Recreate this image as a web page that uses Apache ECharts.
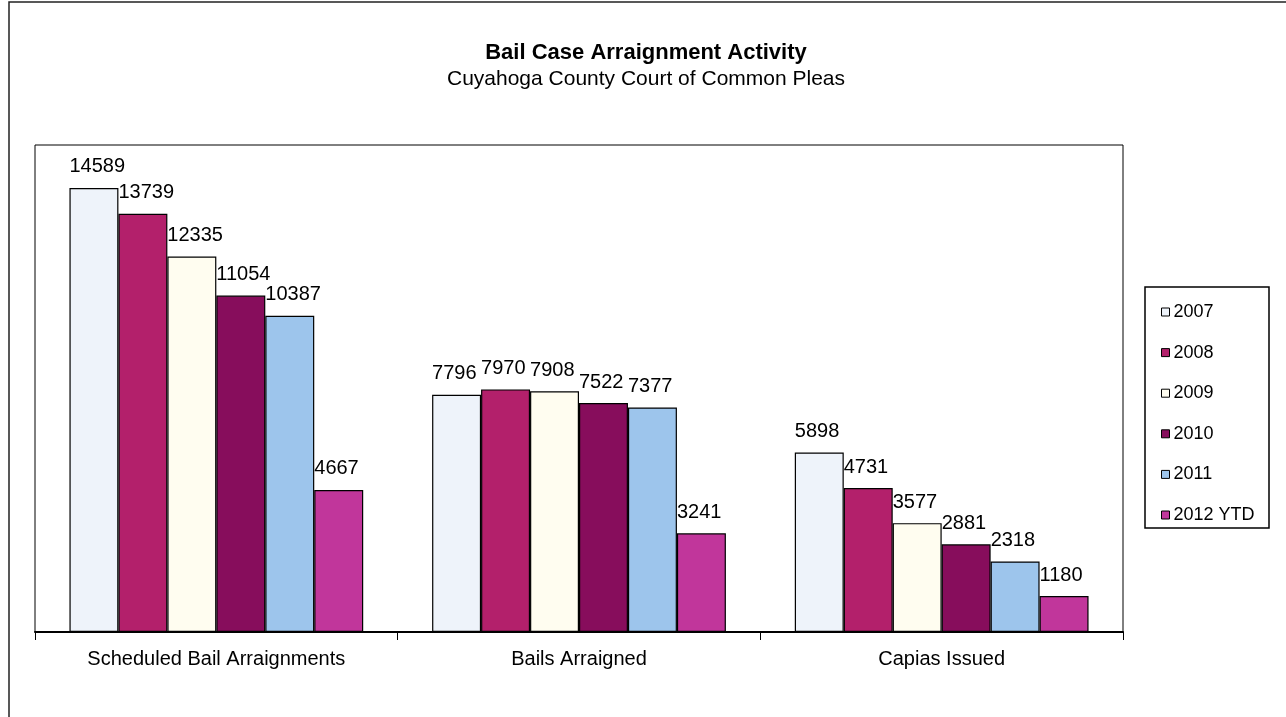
<!DOCTYPE html>
<html>
<head>
<meta charset="utf-8">
<script src="https://cdn.jsdelivr.net/npm/echarts@6/dist/echarts.min.js"></script>
<style>html,body{margin:0;padding:0;background:#fff}#c{width:1286px;height:717px}</style>
</head>
<body>
<div id="c"></div>
<script>
const categories = ['Scheduled Bail Arraignments', 'Bails Arraigned', 'Capias Issued'];
const seriesNames = ['2007', '2008', '2009', '2010', '2011', '2012 YTD'];
const v2007 = [14589, 7796, 5898];
const v2008 = [13739, 7970, 4731];
const v2009 = [12335, 7908, 3577];
const v2010 = [11054, 7522, 2881];
const v2011 = [10387, 7377, 2318];
const v2012 = [4667, 3241, 1180];
const values = [v2007, v2008, v2009, v2010, v2011, v2012];
const colors = ['#eef3fa', '#b3206b', '#fffdf0', '#870d5c', '#9dc5ec', '#c1369b'];

const font = 'Liberation Sans, Arial, sans-serif';
const chart = echarts.init(document.getElementById('c'));
chart.setOption({
  animation: false,
  backgroundColor: '#fff',
  title: {
    text: 'Bail Case Arraignment Activity',
    subtext: 'Cuyahoga County Court of Common Pleas',
    left: 641, textAlign: 'center', top: 37, itemGap: 5,
    textStyle: { fontFamily: font, fontSize: 22, fontWeight: 'bold', color: '#000' },
    subtextStyle: { fontFamily: font, fontSize: 21, color: '#000' }
  },
  legend: {
    orient: 'vertical', left: 1156, top: 298, itemGap: 22.6,
    itemWidth: 8, itemHeight: 8, icon: 'rect',
    itemStyle: { borderColor: '#000', borderWidth: 1 },
    textStyle: { fontFamily: font, fontSize: 18, color: '#000', padding: [0, 0, 0, -1] },
    data: seriesNames
  },
  graphic: [
    { type: 'rect', shape: { x: 9, y: 2, width: 1290, height: 730 }, style: { fill: 'none', stroke: '#222', lineWidth: 1.5 } },
    { type: 'rect', shape: { x: 1145, y: 287, width: 124, height: 241 }, style: { fill: 'none', stroke: '#000', lineWidth: 1.5 } }
  ],
  grid: { left: 35, right: 163, top: 145, bottom: 85, show: true, borderColor: '#000', borderWidth: 1 },
  xAxis: {
    type: 'category', data: categories,
    axisLine: { show: true, lineStyle: { color: '#000', width: 2 } },
    axisTick: { show: true, interval: 0, length: 8, lineStyle: { color: '#000', width: 1 } },
    axisLabel: { fontFamily: font, fontSize: 20, color: '#000', margin: 17 }
  },
  yAxis: { type: 'value', min: 0, max: 16000, show: false, splitLine: { show: false } },
  series: seriesNames.map((n, i) => ({
    name: n, type: 'bar', data: values[i],
    barGap: '0%', barCategoryGap: '19%',
    itemStyle: { color: colors[i], borderColor: '#000', borderWidth: 1.2 },
    label: { show: true, position: [0, -31], align: 'left', verticalAlign: 'top', fontFamily: font, fontSize: 20, color: '#000' }
  }))
});
</script>
</body>
</html>
